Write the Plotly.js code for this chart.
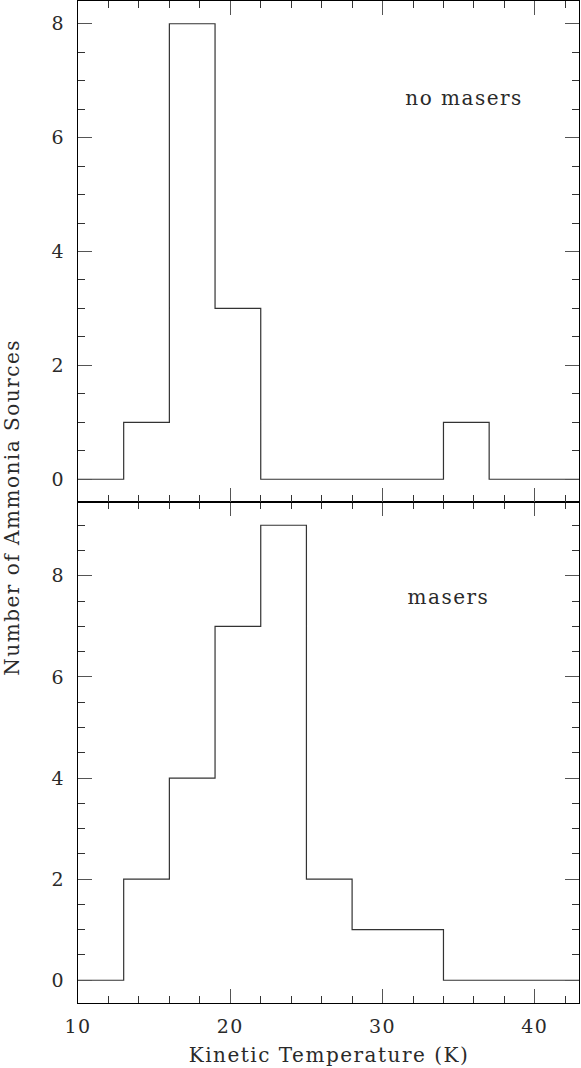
<!DOCTYPE html>
<html><head><meta charset="utf-8">
<script src="https://cdn.plot.ly/plotly-3.0.1.min.js"></script>
<style>html,body{margin:0;padding:0;background:#fff;}
.main-svg text{letter-spacing:1.5px;}</style>
</head><body>
<div id="chart" style="width:581px;height:1068px;"></div>
<script>
// Bin edges (Kinetic Temperature, K)
var binEdges = [10, 13, 16, 19, 22, 25, 28, 31, 34, 37, 40, 43];
// Counts per bin
var noMaserCounts = [0, 1, 8, 3, 0, 0, 0, 0, 1, 0, 0];
var maserCounts   = [0, 2, 4, 7, 9, 2, 1, 1, 0, 0, 0];
var xTickVals = [10, 20, 30, 40];
var topLabel = "no masers";
var bottomLabel = "masers";
var xTitle = "Kinetic Temperature (K)";
var yTitle = "Number of Ammonia Sources";

function stepY(counts){ return counts.concat([counts[counts.length-1]]); }

var FONT = "DejaVu Serif";
var TXT = "#2a2a2a";
var lineStyle = {color:"#333", width:1.2, shape:"hv"};

var traces = [
  {x: binEdges, y: stepY(noMaserCounts), mode:"lines", line: lineStyle, xaxis:"x2", yaxis:"y2", hoverinfo:"skip"},
  {x: binEdges, y: stepY(maserCounts), mode:"lines", line: lineStyle, xaxis:"x", yaxis:"y", hoverinfo:"skip"}
];

function xax(showLabels, anchor){
  return {
    range:[10, 42.9], anchor: anchor, showline:true, linecolor:"#000", linewidth:1.2, mirror:"allticks",
    ticks:"inside", ticklen:14, tickwidth:1, tickcolor:"#555", tickmode:"array", tickvals:xTickVals,
    showticklabels: showLabels, showgrid:false, zeroline:false,
    tickfont:{family:FONT, size:19, color:TXT}, ticklabelstandoff:6,
    minor:{dtick:2, tick0:10, ticklen:7, ticks:"inside", tickcolor:"#333", showgrid:false}
  };
}
function yax(range, domain, anchor){
  return {
    range: range, domain: domain, anchor: anchor, showline:true, linecolor:"#000", linewidth:1.2, mirror:"allticks",
    ticks:"inside", ticklen:14, tickwidth:1, tickcolor:"#555", dtick:2, tick0:0,
    showgrid:false, zeroline:false,
    tickfont:{family:FONT, size:19, color:TXT}, ticklabelstandoff:8,
    minor:{dtick:0.5, ticklen:7, ticks:"inside", tickcolor:"#333", showgrid:false}
  };
}

var layout = {
  width:581, height:1068,
  margin:{l:78, r:2, t:1, b:65},
  paper_bgcolor:"#fff", plot_bgcolor:"#fff",
  showlegend:false,
  xaxis: xax(true, "y"),
  xaxis2: Object.assign(xax(false, "y2"), {matches:"x"}),
  yaxis: yax([-0.45, 9.46], [0, 0.5], "x"),
  yaxis2: yax([-0.4, 8.4], [0.5, 1], "x2"),
  annotations:[
    {text: topLabel, xref:"x", yref:"y2", x:31.8, y:6.7, xanchor:"left", yanchor:"middle", showarrow:false,
     font:{family:FONT, size:20, color:TXT}},
    {text: bottomLabel, xref:"x", yref:"y", x:31.8, y:7.59, xanchor:"left", yanchor:"middle", showarrow:false,
     font:{family:FONT, size:20, color:TXT}},
    {text: xTitle, xref:"paper", yref:"paper", x:0.5, y:-0.052, xanchor:"center", yanchor:"middle", showarrow:false,
     font:{family:FONT, size:20, color:TXT}},
    {text: yTitle, xref:"paper", yref:"paper", x:-0.132, y:0.495, xanchor:"center", yanchor:"middle", showarrow:false,
     textangle:-90, font:{family:FONT, size:20, color:TXT}}
  ]
};

Plotly.newPlot("chart", traces, layout, {staticPlot:true, displayModeBar:false});
</script>
</body></html>
